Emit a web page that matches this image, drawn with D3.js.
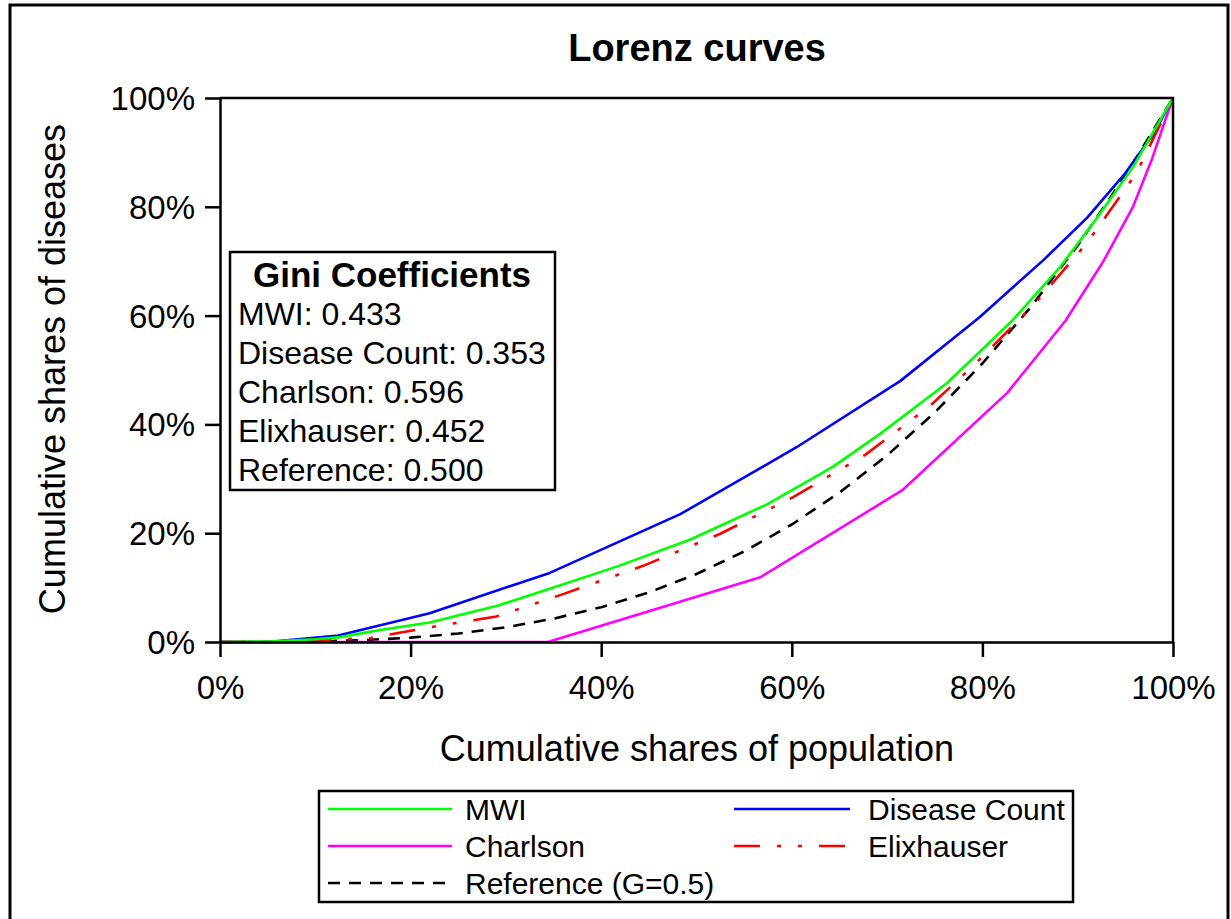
<!DOCTYPE html>
<html>
<head>
<meta charset="utf-8">
<script src="https://cdn.jsdelivr.net/npm/d3@7/dist/d3.min.js"></script>
<style>
  html, body { margin: 0; padding: 0; background: #fff; }
  svg { display: block; }
  text { font-family: "Liberation Sans", Arial, Helvetica, sans-serif; fill: #000; }
</style>
</head>
<body>
<svg id="chart" width="1231" height="919"></svg>
<script>
// ---- data ----
const mwiP   = [0, 0.05, 0.10, 0.126, 0.168, 0.22, 0.29, 0.346, 0.417, 0.493, 0.574, 0.643, 0.693, 0.763, 0.832, 0.881, 0.92, 0.958, 1.0];
const mwiV   = [0, 0.001, 0.005, 0.009, 0.022, 0.036, 0.066, 0.098, 0.139, 0.188, 0.253, 0.322, 0.383, 0.476, 0.592, 0.688, 0.779, 0.873, 1.0];

const countP = [0, 0.05, 0.124, 0.22, 0.346, 0.483, 0.605, 0.714, 0.797, 0.864, 0.91, 0.95, 0.98, 1.0];
const countV = [0, 0.0, 0.012, 0.053, 0.127, 0.235, 0.358, 0.48, 0.597, 0.702, 0.78, 0.862, 0.935, 1.0];

const charlsonP = [0, 0.344, 0.567, 0.716, 0.826, 0.887, 0.927, 0.958, 0.978, 0.992, 1.0];
const charlsonV = [0, 0.0, 0.119, 0.279, 0.458, 0.59, 0.70, 0.80, 0.888, 0.96, 1.0];

const elixP = [0, 0.05, 0.10, 0.157, 0.22, 0.29, 0.36, 0.444, 0.525, 0.601, 0.677, 0.745, 0.79, 0.853, 0.91, 0.962, 1.0];
const elixV = [0, 0.001, 0.003, 0.007, 0.027, 0.047, 0.088, 0.140, 0.199, 0.266, 0.344, 0.434, 0.507, 0.618, 0.734, 0.863, 1.0];

const refP = [0, 0.05, 0.10, 0.15, 0.20, 0.25, 0.30, 0.35, 0.40, 0.45, 0.50, 0.55, 0.60, 0.65, 0.70, 0.75, 0.80, 0.85, 0.90, 0.95, 1.0];
const refV = [0, 0.0001, 0.001, 0.0034, 0.008, 0.0156, 0.027, 0.0429, 0.064, 0.0911, 0.125, 0.1664, 0.216, 0.2746, 0.343, 0.4219, 0.512, 0.6141, 0.729, 0.8574, 1.0];

const tickValues = [0, 0.2, 0.4, 0.6, 0.8, 1.0];
const giniLabels = ["MWI: 0.433", "Disease Count: 0.353", "Charlson: 0.596", "Elixhauser: 0.452", "Reference: 0.500"];
const seriesNames = ["MWI", "Disease Count", "Charlson", "Elixhauser", "Reference (G=0.5)"];

// ---- drawing ----
const svg = d3.select("#chart");
const plot = { left: 220, right: 1173, top: 98, bottom: 642 };
const x = d3.scaleLinear().domain([0, 1]).range([plot.left, plot.right]);
const y = d3.scaleLinear().domain([0, 1]).range([plot.bottom, plot.top]);
const fmt = d3.format(".0%");

// outer frame
svg.append("rect").attr("x", 10).attr("y", 5).attr("width", 1218).attr("height", 940)
  .attr("fill", "none").attr("stroke", "#000").attr("stroke-width", 3);

// title
svg.append("text").attr("x", 697).attr("y", 48).attr("dy", "0.35em")
  .attr("text-anchor", "middle").style("font-size", "38px").style("font-weight", "bold")
  .text("Lorenz curves");

const series = [
  { name: seriesNames[0], p: mwiP, v: mwiV, color: "#00ff00", dash: null },
  { name: seriesNames[1], p: countP, v: countV, color: "#0000ff", dash: null },
  { name: seriesNames[2], p: charlsonP, v: charlsonV, color: "#ff00ff", dash: null },
  { name: seriesNames[3], p: elixP, v: elixV, color: "#ff0000", dash: "26,17,4,17,4,17" },
  { name: seriesNames[4], p: refP, v: refV, color: "#000000", dash: "12,9" }
];

const line = d3.line().x(d => x(d[0])).y(d => y(d[1]));

// draw order: reference, charlson, disease count, elixhauser, mwi
const order = [4, 2, 1, 3, 0];
order.forEach(i => {
  const s = series[i];
  svg.append("path")
    .datum(s.p.map((p, k) => [p, s.v[k]]))
    .attr("d", line)
    .attr("fill", "none")
    .attr("stroke", s.color)
    .attr("stroke-width", 2.6)
    .attr("stroke-linejoin", "round")
    .attr("stroke-dasharray", s.dash);
});

// plot frame (top & right)
svg.append("path")
  .attr("d", `M${plot.left},${plot.top}H${plot.right}V${plot.bottom}`)
  .attr("fill", "none").attr("stroke", "#000").attr("stroke-width", 2.5);

// axes
const xAxis = d3.axisBottom(x).tickValues(tickValues).tickFormat(fmt).tickSizeInner(15).tickSizeOuter(0).tickPadding(19);
const yAxis = d3.axisLeft(y).tickValues(tickValues).tickFormat(fmt).tickSizeInner(15).tickSizeOuter(0).tickPadding(10);

const gx = svg.append("g").attr("transform", `translate(0,${plot.bottom})`).call(xAxis);
const gy = svg.append("g").attr("transform", `translate(${plot.left},0)`).call(yAxis);
[gx, gy].forEach(g => {
  g.selectAll("path.domain").attr("stroke", "#000").attr("stroke-width", 2.5);
  g.selectAll(".tick line").attr("stroke", "#000").attr("stroke-width", 2.5);
  g.selectAll(".tick text").style("font-size", "33px").style("font-family", "\"Liberation Sans\", Arial, sans-serif").attr("fill", "#000");
});
gy.selectAll(".tick text").attr("dy", "0.35em");
gx.selectAll(".tick text").attr("dy", "0.71em");

// axis titles
svg.append("text").attr("x", 697).attr("y", 748).attr("dy", "0.35em")
  .attr("text-anchor", "middle").style("font-size", "36px")
  .text("Cumulative shares of population");
svg.append("text")
  .attr("transform", "translate(52,369) rotate(-90)")
  .attr("dy", "0.35em")
  .attr("text-anchor", "middle").style("font-size", "36px")
  .text("Cumulative shares of diseases");

// Gini box
const gb = svg.append("g");
gb.append("rect").attr("x", 230).attr("y", 252).attr("width", 325).attr("height", 238)
  .attr("fill", "#fff").attr("stroke", "#000").attr("stroke-width", 2.5);
gb.append("text").attr("x", 392).attr("y", 275).attr("dy", "0.35em")
  .attr("text-anchor", "middle").style("font-size", "35px").style("font-weight", "bold")
  .text("Gini Coefficients");
giniLabels.forEach((t, i) => {
  gb.append("text").attr("x", 238).attr("y", 314 + i * 39).attr("dy", "0.35em")
    .style("font-size", "32px").text(t);
});

// legend
const lg = svg.append("g");
lg.append("rect").attr("x", 319).attr("y", 791).attr("width", 754).attr("height", 111)
  .attr("fill", "#fff").attr("stroke", "#000").attr("stroke-width", 2.5);
const legPos = [
  { lx: 328, tx: 465, row: 0 },
  { lx: 734, tx: 868, row: 0 },
  { lx: 328, tx: 465, row: 1 },
  { lx: 734, tx: 868, row: 1 },
  { lx: 328, tx: 465, row: 2 }
];
series.forEach((s, i) => {
  const pos = legPos[i];
  const yy = 809 + pos.row * 37;
  lg.append("line").attr("x1", pos.lx).attr("x2", pos.lx + (i % 2 === 0 ? 124 : 116))
    .attr("y1", yy).attr("y2", yy)
    .attr("stroke", s.color).attr("stroke-width", 2.6)
    .attr("stroke-dasharray", s.dash);
  lg.append("text").attr("x", pos.tx).attr("y", yy).attr("dy", "0.35em")
    .style("font-size", "30px").text(s.name);
});
</script>
</body>
</html>
